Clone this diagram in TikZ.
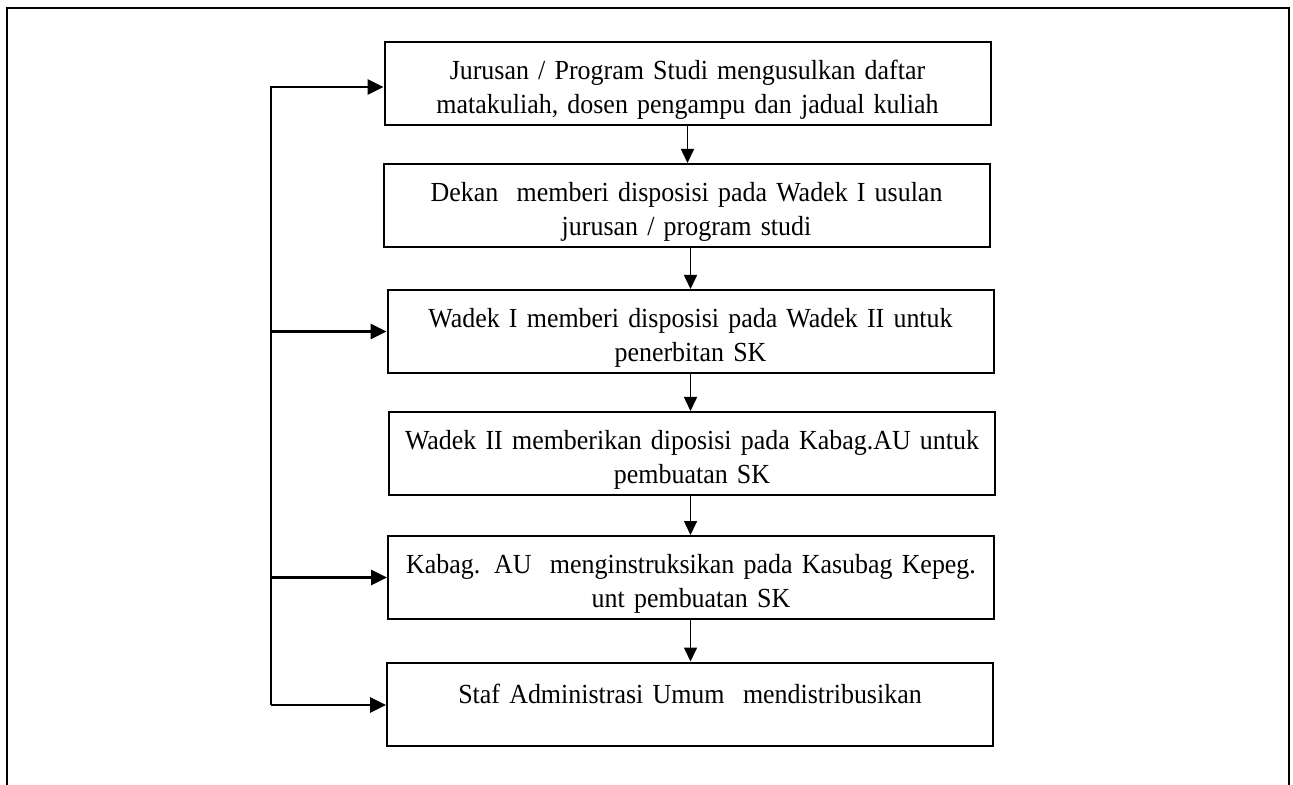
\documentclass[tikz,border=0pt]{standalone}
\usepackage{fontspec}
\setmainfont[FakeStretch=0.94]{Liberation Serif}
\usepackage{tikz}
\usetikzlibrary{arrows.meta,positioning,calc}

\begin{document}
\begin{tikzpicture}[x=0.5pt,y=-0.5pt,
  every node/.style={font=\fontsize{13.8}{17}\selectfont},
  stepbox/.style={draw,line width=1pt,minimum width=303pt,minimum height=41.5pt,
    text width=298pt,align=center,inner sep=0pt,
    execute at begin node={\rule{0pt}{16pt}}},
  flow/.style={line width=0.8pt,-{Triangle[length=7pt,width=6.5pt]}},
  feed/.style={line width=1.4pt,-{Triangle[length=8pt,width=7.5pt]}}]
  \useasboundingbox (0,0) rectangle (1293,785);
  % outer frame, open at the bottom
  \draw[line width=1pt] (7,785) -- (7,8) -- (1289,8) -- (1289,785);
  % the six steps
  \node[stepbox] (usul) at (687.5,83.5) {Jurusan / Program Studi mengusulkan daftar\\matakuliah, dosen pengampu dan jadual kuliah};
  \node[stepbox] (dekan) at (686.5,205.5) {Dekan\ \ memberi disposisi pada Wadek I usulan\\jurusan / program studi};
  \node[stepbox] (wadeka) at (690.5,331.5) {Wadek I memberi disposisi pada Wadek II untuk\\penerbitan SK};
  \node[stepbox] (wadekb) at (692,453.5) {Wadek II memberikan diposisi pada Kabag.AU untuk\\pembuatan SK};
  \node[stepbox] (kabag) at (691,577.5) {Kabag. AU\ \ menginstruksikan pada Kasubag Kepeg.\\unt pembuatan SK};
  \node[stepbox] (staf) at (690,704) {Staf Administrasi Umum\ \ mendistribusikan\\\mbox{}};
  % downward flow
  \draw[flow] (usul.south) -- (usul.south |- dekan.north);
  \draw[flow] (dekan.south -| wadeka.south) -- (wadeka.north);
  \draw[flow] (wadeka.south) -- (wadeka.south |- wadekb.north);
  \draw[flow] (wadekb.south -| wadeka.south) -- (wadeka.south |- kabag.north);
  \draw[flow] (kabag.south -| wadeka.south) -- (wadeka.south |- staf.north);
  % feedback rail on the left
  \coordinate (railtop) at (271,87);
  \coordinate (railbot) at (271,705);
  \draw[feed] (railbot) -- (railtop) -- (railtop -| usul.west);
  \draw[feed] (railtop |- wadeka.west) -- (wadeka.west);
  \draw[feed] (railtop |- kabag.west) -- (kabag.west);
  \draw[feed] (railbot) -- (railbot -| staf.west);
\end{tikzpicture}
\end{document}
